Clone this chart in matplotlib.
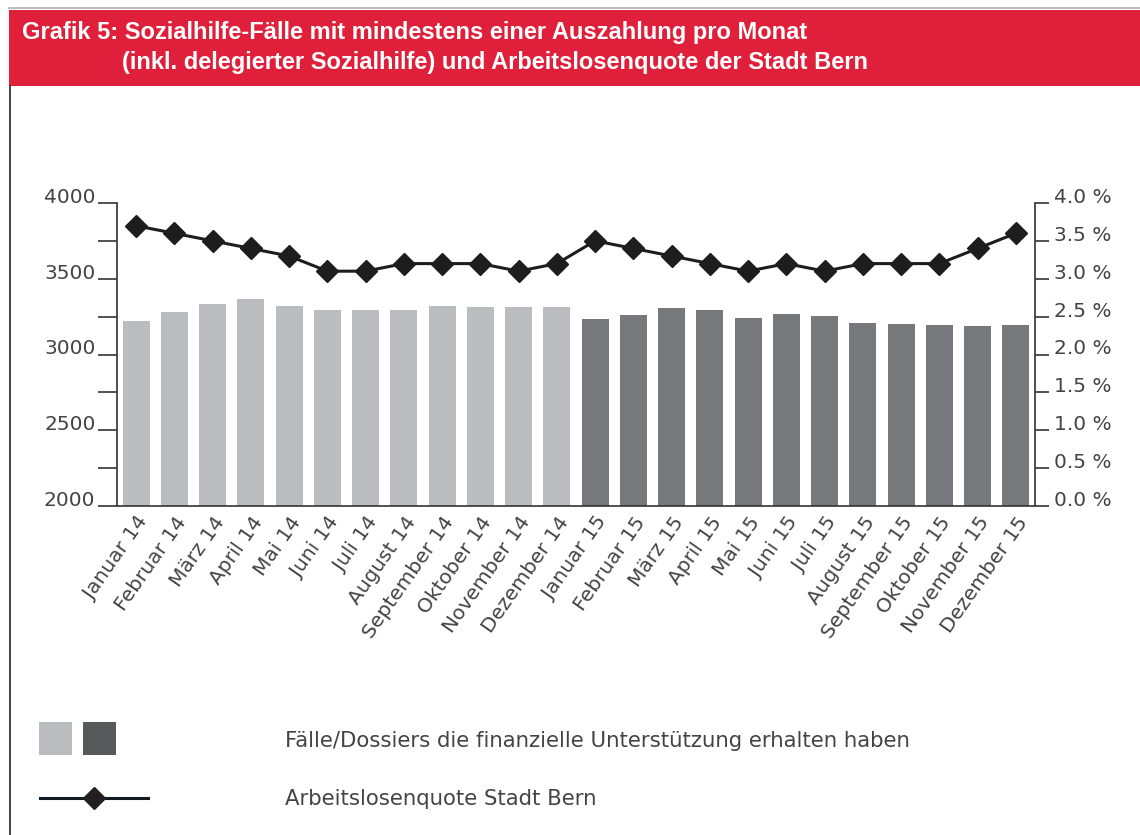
import numpy as np
import matplotlib
matplotlib.use("Agg")
import matplotlib.pyplot as plt
from matplotlib.patches import Rectangle
from matplotlib.lines import Line2D

# data
months = ["Januar 14", "Februar 14", "März 14", "April 14", "Mai 14", "Juni 14",
          "Juli 14", "August 14", "September 14", "Oktober 14", "November 14", "Dezember 14",
          "Januar 15", "Februar 15", "März 15", "April 15", "Mai 15", "Juni 15",
          "Juli 15", "August 15", "September 15", "Oktober 15", "November 15", "Dezember 15"]
cases = [3220, 3280, 3333, 3366, 3320, 3293, 3293, 3293, 3320, 3313, 3313, 3313,
         3233, 3260, 3306, 3293, 3240, 3267, 3253, 3207, 3200, 3194, 3187, 3194]
rate = [3.7, 3.6, 3.5, 3.4, 3.3, 3.1, 3.1, 3.2, 3.2, 3.2, 3.1, 3.2,
        3.5, 3.4, 3.3, 3.2, 3.1, 3.2, 3.1, 3.2, 3.2, 3.2, 3.4, 3.6]
years = [14] * 12 + [15] * 12
left_ticks = list(range(2000, 4001, 250))
right_ticks = [0.0, 0.5, 1.0, 1.5, 2.0, 2.5, 3.0, 3.5, 4.0]

light = "#bbbcc0"
dark = "#77787c"
txt = "#444444"
red = "#e01f3a"

plt.rcParams["font.family"] = ["DejaVu Sans"]

fig = plt.figure(figsize=(11.4, 8.35), dpi=100)
W, H = 1140, 835

def fx(px):
    return px / W

def fy(py):
    return 1 - py / H

# header band
fig.patches.append(Rectangle((fx(9), fy(86)), fx(1140 - 9), 76 / H, transform=fig.transFigure,
                             facecolor=red, edgecolor="none"))
fig.lines.append(Line2D([fx(9), 1], [fy(8), fy(8)], transform=fig.transFigure, color="#b0b0b0", lw=1.2))
fig.lines.append(Line2D([fx(9.5), fx(9.5)], [fy(86), 0], transform=fig.transFigure, color="#222222", lw=1.2))
title_font = ["Liberation Sans", "DejaVu Sans"]
fig.text(fx(22), fy(33), "Grafik 5: Sozialhilfe-Fälle mit mindestens einer Auszahlung pro Monat",
         color="white", fontsize=17, fontweight="bold", family=title_font, va="center")
fig.text(fx(122), fy(62), "(inkl. delegierter Sozialhilfe) und Arbeitslosenquote der Stadt Bern",
         color="white", fontsize=17, fontweight="bold", family=title_font, va="center")

ax = fig.add_axes([fx(117), fy(506), fx(1035) - fx(117), (506 - 203) / H])
x = np.arange(len(months))
colors = [light if y == 14 else dark for y in years]
ax.bar(x, cases, width=0.7, color=colors, zorder=2)
ax.set_xlim(-0.5, len(months) - 0.5)
ax.set_ylim(2000, 4000)
ax.set_yticks(left_ticks)
ax.set_yticklabels([str(t) if t % 500 == 0 else "" for t in left_ticks])
ax.set_xticks(x)
ax.set_xticklabels(months, rotation=55, ha="right", rotation_mode="anchor", fontsize=14.5, color=txt)
ax.tick_params(axis="x", length=0, pad=5)
ax.tick_params(axis="y", length=14, width=1.2, color="#333333", labelsize=14.5, labelcolor=txt, pad=1.5)
for lab in ax.get_yticklabels():
    lab.set_verticalalignment("baseline")
for s in ["top", "right"]:
    ax.spines[s].set_visible(False)
ax.spines["left"].set_linewidth(1.2)
ax.spines["bottom"].set_linewidth(1.2)
ax.spines["left"].set_color("#333333")
ax.spines["bottom"].set_color("#333333")

ax2 = ax.twinx()
ax2.plot(x, rate, color="#1e1c1d", lw=2.2, marker="D", markersize=11, zorder=3)
ax2.set_ylim(0, 4)
ax2.set_yticks(right_ticks)
ax2.set_yticklabels([f"{t:.1f} %" for t in right_ticks])
ax2.tick_params(axis="y", length=10, width=1.2, color="#333333", labelsize=14.5, labelcolor=txt, pad=4)
for lab in ax2.get_yticklabels():
    lab.set_verticalalignment("baseline")
for s in ["top", "left", "bottom"]:
    ax2.spines[s].set_visible(False)
ax2.spines["right"].set_linewidth(1.2)
ax2.spines["right"].set_color("#333333")

# legend
fig.patches.append(Rectangle((fx(39), fy(755)), fx(33), 33 / H, transform=fig.transFigure,
                             facecolor=light, edgecolor="none"))
fig.patches.append(Rectangle((fx(83), fy(755)), fx(33), 33 / H, transform=fig.transFigure,
                             facecolor="#58595b", edgecolor="none"))
fig.lines.append(Line2D([fx(40), fx(148)], [fy(798), fy(798)], transform=fig.transFigure,
                        color="#0f1a24", lw=2.2))
fig.lines.append(Line2D([fx(94)], [fy(798)], transform=fig.transFigure, marker="D",
                        markersize=11, color="#231f20", lw=0))
fig.text(fx(285), fy(741), "Fälle/Dossiers die finanzielle Unterstützung erhalten haben",
         fontsize=15.3, color=txt, va="center")
fig.text(fx(285), fy(799), "Arbeitslosenquote Stadt Bern", fontsize=15.3, color=txt, va="center")

fig.savefig("out.png", dpi=100)
